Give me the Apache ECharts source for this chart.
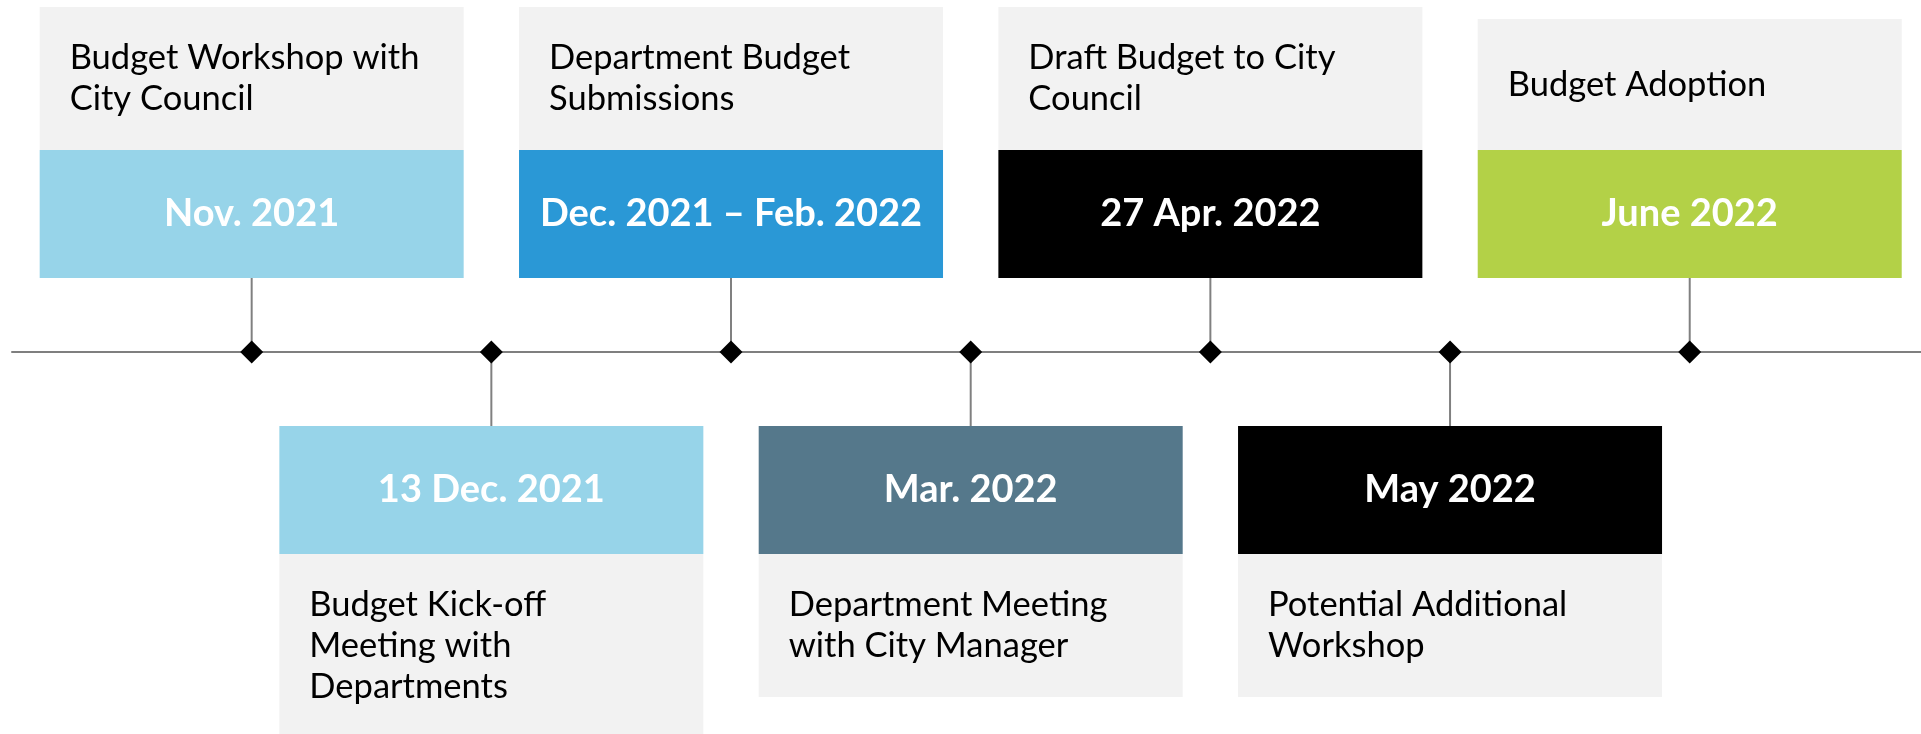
<!DOCTYPE html>
<html>
<head>
<meta charset="utf-8">
<title>Budget Timeline</title>
<script src="https://cdn.jsdelivr.net/npm/echarts@6/dist/echarts.min.js"></script>
<style>
html, body { margin: 0; padding: 0; background: #fff; }
#chart { width: 1921px; height: 734px; }
</style>
</head>
<body>
<div id="chart"></div>
<script>
// milestones, left to right
const dates = ['Nov. 2021', '13 Dec. 2021', 'Dec. 2021 – Feb. 2022', 'Mar. 2022', '27 Apr. 2022', 'May 2022', 'June 2022']
const descriptions = [
  'Budget Workshop with\nCity Council',
  'Budget Kick-off\nMeeting with\nDepartments',
  'Department Budget\nSubmissions',
  'Department Meeting\nwith City Manager',
  'Draft Budget to City\nCouncil',
  'Potential Additional\nWorkshop',
  'Budget Adoption'
]
// 1 = card above the line, -1 = card below
const sides = [1, -1, 1, -1, 1, -1, 1]
const bandColors = ['#97d4e9', '#97d4e9', '#2a98d6', '#55788b', '#000000', '#000000', '#b3d147']

const FONT = 'Lato, "Open Sans", sans-serif'

function renderCard(params, api) {
  const i = api.value(0)
  const side = api.value(1)
  const p = api.coord([i, 0])
  const w = 424, stem = 74, bandH = 128
  const desc = descriptions[i]
  const lines = desc.split('\n').length
  const boxH = Math.max(131, 61 + 41 * lines)
  const x = p[0] - w / 2
  let bandY, boxY
  if (side > 0) {
    bandY = p[1] - stem - bandH
    boxY = bandY - boxH
  } else {
    bandY = p[1] + stem
    boxY = bandY + bandH
  }
  return {
    type: 'group',
    children: [
      {
        type: 'line',
        shape: { x1: p[0], y1: p[1], x2: p[0], y2: p[1] - side * stem },
        style: { stroke: '#808080', lineWidth: 2 }
      },
      { type: 'rect', shape: { x: x, y: boxY, width: w, height: boxH }, style: { fill: '#f2f2f2' } },
      { type: 'rect', shape: { x: x, y: bandY, width: w, height: bandH }, style: { fill: bandColors[i] } },
      {
        type: 'text',
        style: {
          x: x + 30, y: boxY + boxH / 2,
          text: desc, fill: '#000',
          fontSize: 34.5, fontFamily: FONT, lineHeight: 41,
          align: 'left', verticalAlign: 'middle'
        }
      },
      {
        type: 'text',
        style: {
          x: p[0], y: bandY + bandH / 2,
          text: dates[i], fill: '#fff',
          fontSize: 38, fontWeight: 'bold', fontFamily: FONT,
          align: 'center', verticalAlign: 'middle'
        }
      }
    ]
  }
}

const chart = echarts.init(document.getElementById('chart'))
chart.setOption({
  animation: false,
  grid: { left: 12, right: 0, top: 0, height: 704 },
  xAxis: {
    type: 'value',
    min: -1,
    max: 6.965,
    axisLine: { show: true, onZero: true, lineStyle: { color: '#7f7f7f', width: 2 } },
    axisTick: { show: false },
    axisLabel: { show: false },
    splitLine: { show: false }
  },
  yAxis: {
    type: 'value',
    min: -1,
    max: 1,
    show: false
  },
  series: [
    {
      type: 'custom',
      clip: false,
      z: 1,
      renderItem: renderCard,
      data: dates.map((d, i) => [i, sides[i]])
    },
    {
      type: 'scatter',
      z: 3,
      symbol: 'diamond',
      symbolSize: 23,
      itemStyle: { color: '#000', opacity: 1 },
      data: dates.map((d, i) => [i, 0])
    }
  ]
})
</script>
</body>
</html>
